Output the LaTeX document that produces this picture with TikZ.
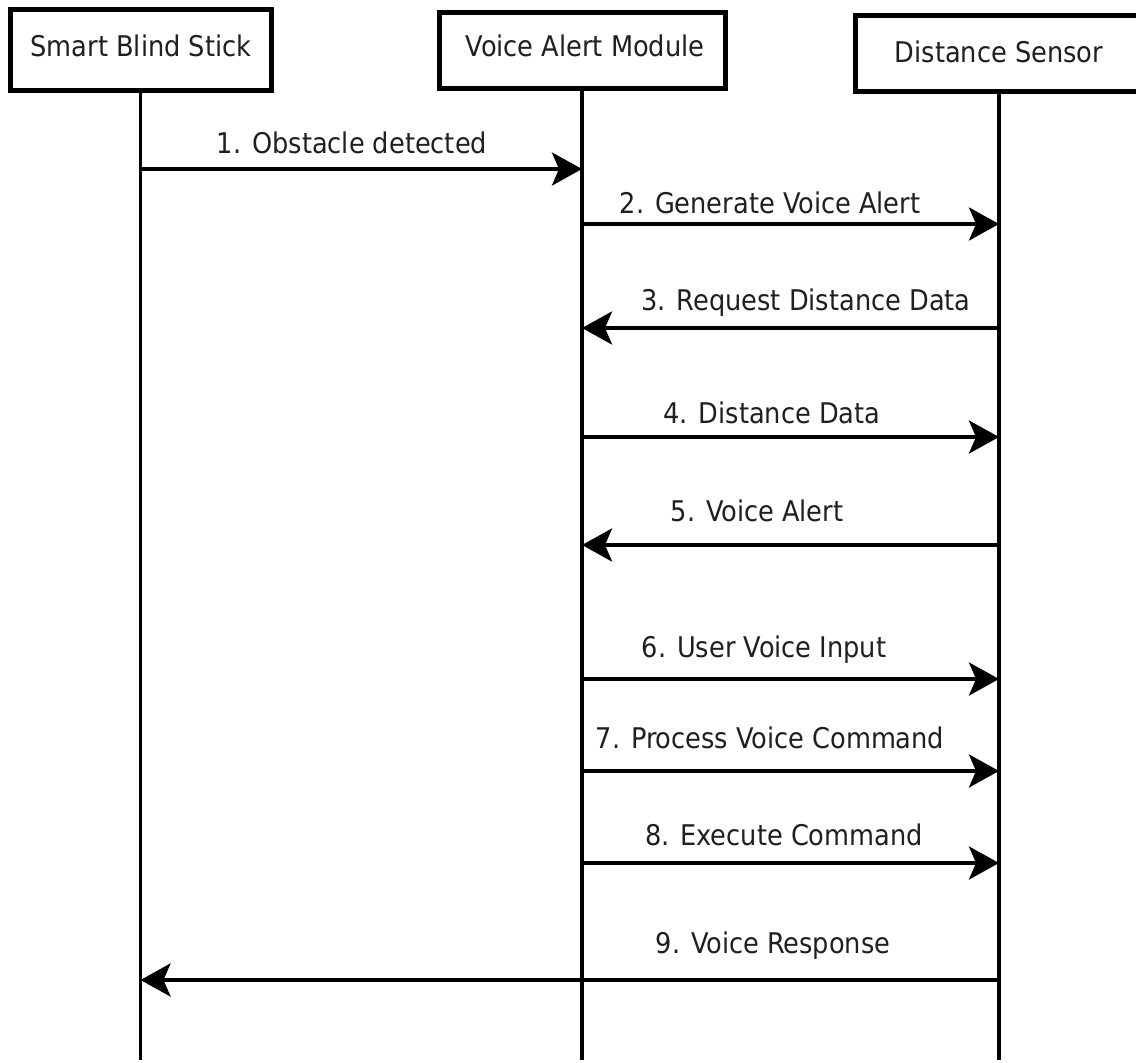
\documentclass[tikz,border=0pt]{standalone}
\usepackage{fontspec}
\setmainfont{DejaVu Sans Condensed}
\usetikzlibrary{arrows.meta}

\tikzset{
  actor/.style={draw=black, line width=5pt, fill=white, inner sep=0pt},
  actortext/.style={anchor=base, font=\fontsize{28.5}{34}\selectfont, text=black!88},
  lifeline/.style={draw=black, line width=3.6pt},
  msg/.style={draw=black, line width=3.6pt,
    -{Stealth[length=30pt, width=33pt, inset=7pt]}},
  msgtext/.style={anchor=base, font=\fontsize{28.5}{34}\selectfont, text=black!88},
}

\begin{document}
\begin{tikzpicture}[x=1pt, y=-1pt]
  \useasboundingbox (0,0) rectangle (1136,1063);

  % participants
  \node[actor, minimum width=261pt, minimum height=81pt] (stick) at (140.5,49.5) {};
  \node[actor, minimum width=286pt, minimum height=76pt] (voice) at (582,50) {};
  \node[actor, minimum width=288pt, minimum height=76pt] (sensor) at (999,53) {};
  \node[actortext] (stickt) at (141,56) {Smart Blind Stick};
  \node[actortext] (voicet) at (585,56) {Voice Alert Module};
  \node[actortext] (sensort) at (999,62) {Distance Sensor};

  % lifelines
  \coordinate (bottom) at (0,1060);
  \draw[lifeline] (stick.south) -- (stick.south |- bottom);
  \draw[lifeline] (voice.south) -- (voice.south |- bottom);
  \draw[lifeline] (sensor.south) -- (sensor.south |- bottom);

  % message rows
  \coordinate (r1) at (0,169);
  \coordinate (r2) at (0,224);
  \coordinate (r3) at (0,328);
  \coordinate (r4) at (0,437);
  \coordinate (r5) at (0,545);
  \coordinate (r6) at (0,679);
  \coordinate (r7) at (0,771);
  \coordinate (r8) at (0,863);
  \coordinate (r9) at (0,980);

  \draw[msg] (stick.south |- r1) -- (voice.south |- r1);
  \draw[msg] (voice.south |- r2) -- (sensor.south |- r2);
  \draw[msg] (sensor.south |- r3) -- (voice.south |- r3);
  \draw[msg] (voice.south |- r4) -- (sensor.south |- r4);
  \draw[msg] (sensor.south |- r5) -- (voice.south |- r5);
  \draw[msg] (voice.south |- r6) -- (sensor.south |- r6);
  \draw[msg] (voice.south |- r7) -- (sensor.south |- r7);
  \draw[msg] (voice.south |- r8) -- (sensor.south |- r8);
  \draw[msg] (sensor.south |- r9) -- (stick.south |- r9);

  % message labels
  \node[msgtext] (l1) at (352,153) {1. Obstacle detected};
  \node[msgtext] (l2) at (770,213) {2. Generate Voice Alert};
  \node[msgtext] (l3) at (806,310) {3. Request Distance Data};
  \node[msgtext] (l4) at (772,423) {4. Distance Data};
  \node[msgtext] (l5) at (757,521) {5. Voice Alert};
  \node[msgtext] (l6) at (764,657) {6. User Voice Input};
  \node[msgtext] (l7) at (770,748) {7. Process Voice Command};
  \node[msgtext] (l8) at (784,845) {8. Execute Command};
  \node[msgtext] (l9) at (773,953) {9. Voice Response};
\end{tikzpicture}
\end{document}
